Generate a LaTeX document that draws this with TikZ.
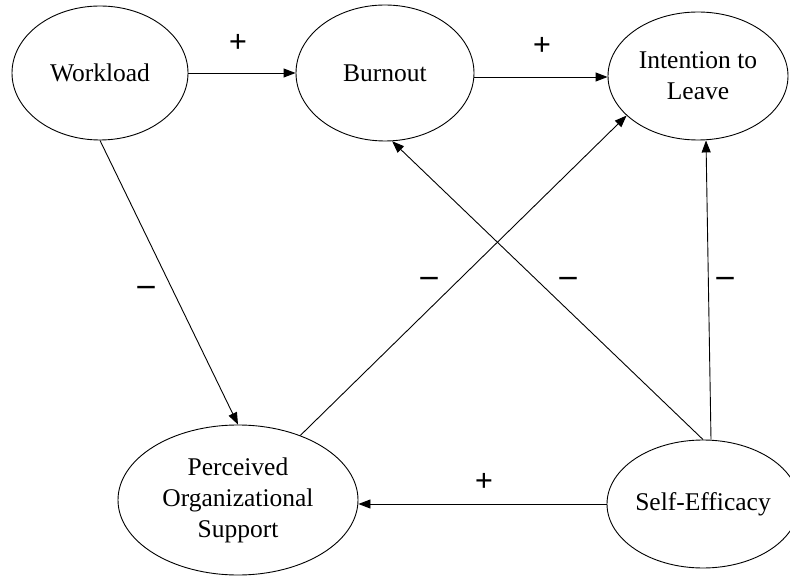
\documentclass[tikz,border=0pt]{standalone}
\usepackage{fontspec}
\setmainfont{Liberation Serif}
\usetikzlibrary{shapes.geometric,arrows.meta}
\begin{document}
\begin{tikzpicture}[x=1pt,y=-1pt,
  var/.style={draw,ellipse,line width=0.9pt,inner sep=0pt,align=center,
    font=\fontsize{25.5}{31}\selectfont},
  arr/.style={line width=0.9pt,-{Triangle[length=12pt,width=9pt]}},
  sign/.style={font=\bfseries\fontsize{32}{32}\selectfont},
  neg/.style={font=\bfseries\fontsize{34}{34}\selectfont}]
\useasboundingbox (0,0) rectangle (790,577);
\clip (0,0) rectangle (790,577);
\node[var,minimum width=176pt,minimum height=134pt] (W) at (100,73) {Workload};
\node[var,minimum width=178pt,minimum height=136pt] (B) at (385,73) {Burnout};
\node[var,minimum width=180pt,minimum height=128pt] (I) at (698,76) {Intention to\\Leave};
\node[var,minimum width=240pt,minimum height=150pt] (P) at (238,500) {Perceived\\Organizational\\Support};
\node[var,minimum width=192pt,minimum height=128pt] (S) at (703,504) {Self-Efficacy};
\draw[arr] (W.east) -- (B.west |- W.east);
\draw[arr] (B.east |- 0,77) -- (I.west |- 0,77);
\draw[arr] (W.south) -- (P.north);
\draw[arr] (P.46) -- (I.209);
\draw[arr] (S.north) -- (B.276);
\draw[arr] ([xshift=8pt]S.north) -- ([xshift=8pt]I.south);
\draw[arr] (S.west) -- (P.east |- S.west);
\node[sign] (p1) at (238,43) {+};
\node[sign] (p2) at (542,46) {+};
\node[neg] (m1) at (146,291) {–};
\node[neg] (m2) at (429,282) {–};
\node[neg] (m3) at (568,282) {–};
\node[neg] (m4) at (725,282) {–};
\node[sign] (p3) at (484,482) {+};
\end{tikzpicture}
\end{document}
